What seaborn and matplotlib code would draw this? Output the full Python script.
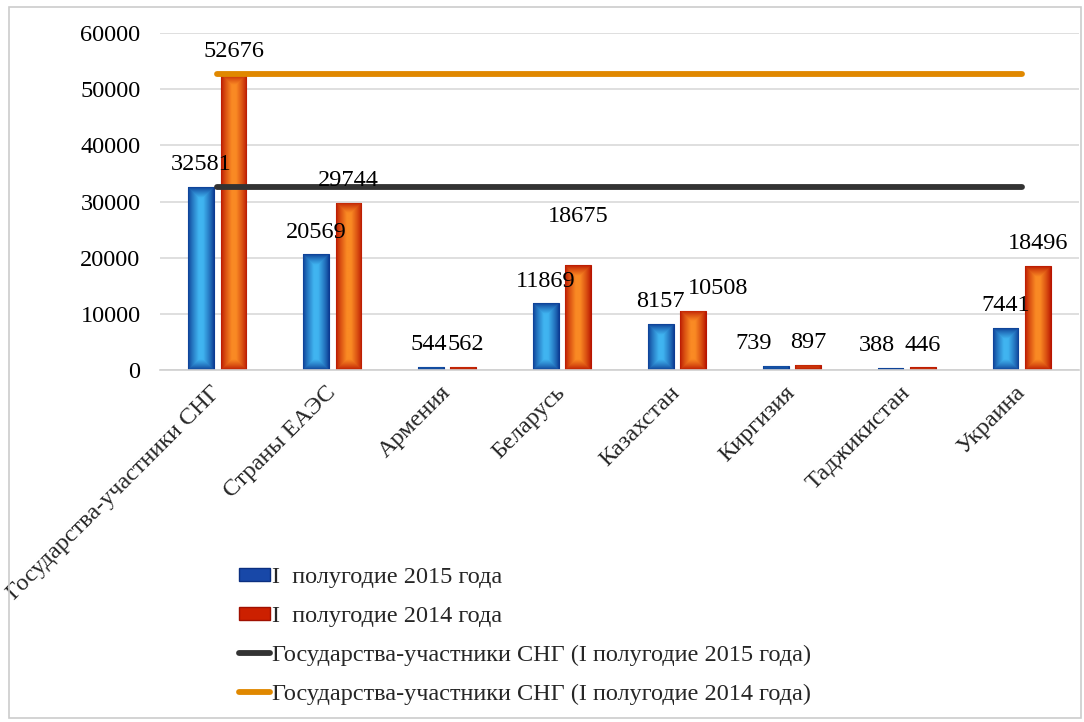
import numpy as np
import pandas as pd
import matplotlib
matplotlib.use("Agg")
import matplotlib.pyplot as plt
import seaborn as sns
from matplotlib.lines import Line2D
from matplotlib.patches import Patch, Rectangle
from matplotlib.colors import to_rgb

categories = ["Государства-участники СНГ", "Страны ЕАЭС", "Армения", "Беларусь",
              "Казахстан", "Киргизия", "Таджикистан", "Украина"]
values_2015 = [32581, 20569, 544, 11869, 8157, 739, 388, 7441]
values_2014 = [52676, 29744, 562, 18675, 10508, 897, 446, 18496]
series_names = ["I  полугодие 2015 года", "I  полугодие 2014 года"]
line_names = ["Государства-участники СНГ (I полугодие 2015 года)",
              "Государства-участники СНГ (I полугодие 2014 года)"]
cis_2015 = values_2015[0]
cis_2014 = values_2014[0]
y_ticks = [0, 10000, 20000, 30000, 40000, 50000, 60000]

# label nudges (points) to avoid overlaps, as in the original: (series, category) -> (dx, dy)
label_nudge = {(0, 2): (-2, 0), (1, 2): (2, 0), (1, 3): (0, 19), (1, 4): (18, 0),
               (0, 5): (-16, 0), (0, 6): (-10, 0)}

sns.set_theme(style="white")
plt.rcParams['font.family'] = ['Liberation Serif', 'DejaVu Serif']
FS = 17.5

df = pd.DataFrame({
    "cat": categories * 2,
    "val": values_2015 + values_2014,
    "series": [series_names[0]] * len(categories) + [series_names[1]] * len(categories),
})

fig = plt.figure(figsize=(10.84, 7.22), dpi=100)
ax = fig.add_axes([160 / 1084, 1 - 370 / 722, (1079 - 160) / 1084, (370 - 33) / 722])

sns.barplot(data=df, x="cat", y="val", hue="series", hue_order=series_names,
            order=categories, palette=["#2a7fd0", "#f06010"], width=0.56, gap=0.2,
            ax=ax, legend=False, errorbar=None, saturation=1)

xs = np.arange(len(categories))
sns.lineplot(x=[xs[0], xs[-1]], y=[cis_2015, cis_2015], color="#333333", lw=4.2,
             ax=ax, solid_capstyle="round", legend=False)
sns.lineplot(x=[xs[0], xs[-1]], y=[cis_2014, cis_2014], color="#e08800", lw=4.2,
             ax=ax, solid_capstyle="round", legend=False)

ax.set_xlim(-0.5, len(categories) - 0.5)
ax.set_ylim(0, 60000)
ax.set_yticks(y_ticks)
ax.set_yticklabels([str(t) for t in y_ticks], fontsize=FS, color="black")
ax.tick_params(axis="y", length=0, pad=14)
ax.yaxis.grid(True, color="#d9d9d9", lw=1.2)
ax.set_axisbelow(True)
for s in ["top", "right", "left"]:
    ax.spines[s].set_visible(False)
ax.spines["bottom"].set_color("#d0d0d0")
ax.spines["bottom"].set_linewidth(1.2)
ax.set_xlabel("")
ax.set_ylabel("")
ax.set_xticks(xs)
ax.set_xticklabels(categories, fontsize=FS, rotation=45, ha="right",
                   rotation_mode="anchor", va="center")
ax.tick_params(axis="x", length=0, pad=14)

# gradient fills
dark = {0: to_rgb("#0b3a92"), 1: to_rgb("#b81400")}
light = {0: to_rgb("#40b4f0"), 1: to_rgb("#fa8a24")}
bars = [p for p in ax.patches if isinstance(p, Rectangle) and p.get_height() > 0]
bars_sorted = sorted(bars, key=lambda p: p.get_x())
for p in bars_sorted:
    x0, y0, w, h = p.get_x(), p.get_y(), p.get_width(), p.get_height()
    cx = x0 + w / 2
    k = 0 if (cx - round(cx)) < 0 else 1
    (px0, py0) = ax.transData.transform((x0, y0))
    (px1, py1) = ax.transData.transform((x0 + w, y0 + h))
    wp = max(int(round(px1 - px0)), 1)
    hp = max(int(round(py1 - py0)), 1)
    xx = np.arange(wp) + 0.5
    yy = np.arange(hp) + 0.5
    X, Y = np.meshgrid(xx, yy)
    d = np.minimum.reduce([X, wp - X, Y, hp - Y])
    t = np.clip(d / (wp * 0.42), 0, 1) ** 0.8
    img = np.zeros((hp, wp, 3))
    for c in range(3):
        img[..., c] = dark[k][c] + (light[k][c] - dark[k][c]) * t
    im = ax.imshow(img, extent=(x0, x0 + w, y0, y0 + h), aspect="auto",
                   origin="lower", zorder=p.get_zorder() + 0.1, interpolation="bilinear")
    im.set_clip_path(p)
    p.set_edgecolor(dark[k])
    p.set_linewidth(0.8)

ax.set_xlim(-0.5, len(categories) - 0.5)
ax.set_ylim(0, 60000)

# value labels
for p in bars_sorted:
    cx = p.get_x() + p.get_width() / 2
    k = 0 if (cx - round(cx)) < 0 else 1
    ci = int(round(cx))
    dx, dy = label_nudge.get((k, ci), (0, 0))
    top = p.get_height()
    ax.annotate(f"{int(top)}", (cx, top), xytext=(dx, 16 + dy), textcoords="offset points",
                ha="center", va="center", fontsize=FS, color="black", zorder=10)

handles = [Patch(facecolor="#1848a8", edgecolor="#0b2f80"),
           Patch(facecolor="#cc2000", edgecolor="#a01000"),
           Line2D([], [], color="#333333", lw=4.2, solid_capstyle="round"),
           Line2D([], [], color="#e08800", lw=4.2, solid_capstyle="round")]
fig.legend(handles, series_names + line_names, loc="upper left",
           bbox_to_anchor=(229 / 1084, 1 - 557 / 722), frameon=False, fontsize=FS,
           handlelength=1.3, handleheight=0.45, handletextpad=0.08, labelspacing=0.74,
           borderaxespad=0)

fig.patches.append(Rectangle((9 / 1084, 1 - 718 / 722), (1081 - 9) / 1084, (718 - 7) / 722,
                             transform=fig.transFigure, fill=False, edgecolor="#cccccc",
                             lw=1.2))

fig.savefig("out.png", dpi=100)
